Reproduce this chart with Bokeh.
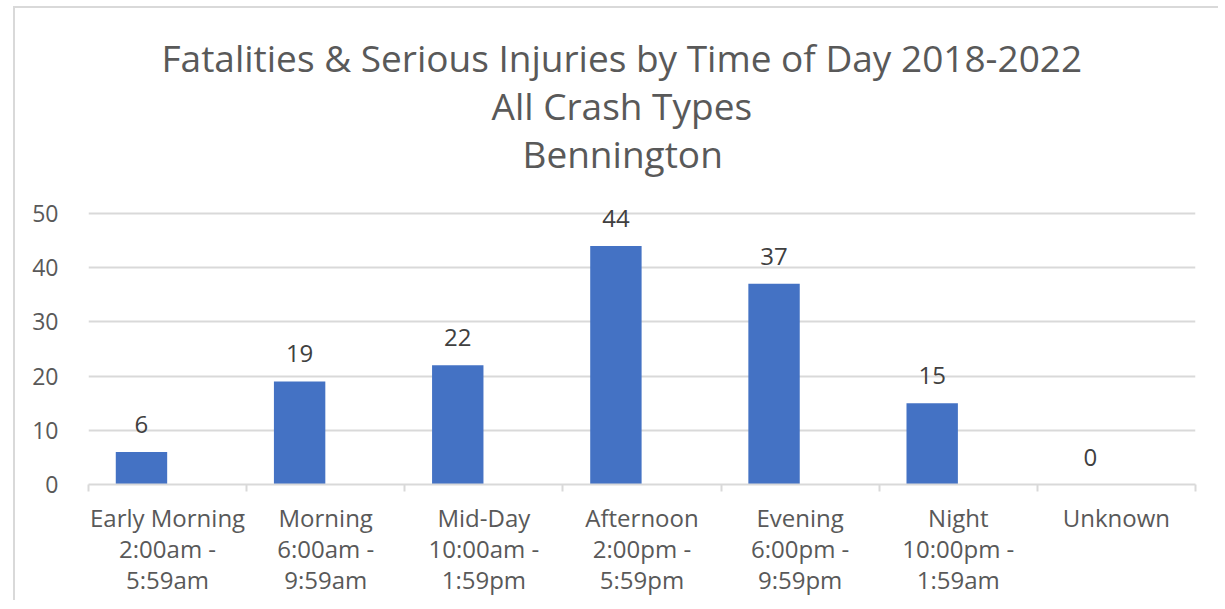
import numpy as np
from bokeh.plotting import figure
from bokeh.models import (ColumnDataSource, FixedTicker, LabelSet, Title, Range1d)
from bokeh.core.properties import value
from bokeh.transform import dodge
from bokeh.embed import file_html
from bokeh.resources import INLINE

categories = ["Early Morning\n2:00am -\n5:59am", "Morning\n6:00am -\n9:59am",
              "Mid-Day\n10:00am -\n1:59pm", "Afternoon\n2:00pm -\n5:59pm",
              "Evening\n6:00pm -\n9:59pm", "Night\n10:00pm -\n1:59am", "Unknown"]
values = [6, 19, 22, 44, 37, 15, 0]
y_ticks = [0, 10, 20, 30, 40, 50]
title_lines = ["Fatalities & Serious Injuries by Time of Day 2018-2022",
               "All Crash Types", "Bennington"]
# left offsets (px from plot-area left) that centre each title line over the whole chart
title_offsets = [73, 403, 434]

FONT = "Open Sans"
n = len(categories)
centers = list(np.arange(n) + 0.5)
src = ColumnDataSource(dict(x=centers, v=values, lbl=[str(v) for v in values]))

W, H = 1205, 594
p = figure(width=W, height=H, output_backend="svg", toolbar_location=None,
           x_range=Range1d(0, n), y_range=Range1d(0, 52),
           min_border_left=73, min_border_right=25, min_border_bottom=118,
           min_border_top=194,
           background_fill_color="white", border_fill_color="white",
           outline_line_color=None,
           styles={"margin-left": "13px", "margin-top": "6px",
                   "border-left": "2px solid #d9d9d9", "border-top": "2px solid #d9d9d9"})

# spacer nearest the plot, then title lines (last added is farthest)
p.add_layout(Title(text=" ", text_font=FONT, text_font_size="18px", standoff=0, offset=0), "above")
for t, off in zip(reversed(title_lines), reversed(title_offsets)):
    p.add_layout(Title(text=t, align="left", text_font=FONT, text_font_size="37px",
                       text_font_style="normal", text_color="#595959",
                       standoff=-5, offset=off), "above")

p.vbar(x=dodge("x", -0.165, range=p.x_range), top="v", width=0.325, source=src,
       fill_color="#4472C4", line_color=None)

labels = LabelSet(x=dodge("x", -0.165, range=p.x_range), y="v", text="lbl", source=src,
                  text_align="center", text_baseline="alphabetic", y_offset=19,
                  text_font=value(FONT), text_font_size=value("24px"),
                  text_color=value("#404040"))
p.add_layout(labels)

# y axis
p.yaxis.ticker = FixedTicker(ticks=y_ticks)
p.yaxis.axis_line_color = None
p.yaxis.major_tick_line_color = None
p.yaxis.minor_tick_line_color = None
p.yaxis.major_label_standoff = 24
p.yaxis.major_label_text_font = FONT
p.yaxis.major_label_text_font_size = "23px"
p.yaxis.major_label_text_color = "#595959"

p.ygrid.ticker = FixedTicker(ticks=y_ticks)
p.ygrid.grid_line_color = "#d9d9d9"
p.ygrid.grid_line_width = 2
p.xgrid.grid_line_color = None

# x axis: labels at centers, ticks at boundaries (minor)
p.xaxis.ticker = FixedTicker(ticks=centers, minor_ticks=list(range(n + 1)))
p.xaxis.major_label_overrides = {c: lab for c, lab in zip(centers, categories)}
p.xaxis.axis_line_color = "#d9d9d9"
p.xaxis.axis_line_width = 2
p.xaxis.major_tick_line_color = None
p.xaxis.major_tick_out = 0
p.xaxis.major_tick_in = 0
p.xaxis.minor_tick_line_color = "#d9d9d9"
p.xaxis.minor_tick_line_width = 2
p.xaxis.minor_tick_out = 7
p.xaxis.minor_tick_in = 0
p.xaxis.major_label_standoff = 9
p.xaxis.major_label_text_font = FONT
p.xaxis.major_label_text_font_size = "24px"
p.xaxis.major_label_text_line_height = 0.94
p.xaxis.major_label_text_color = "#595959"

open("out.html", "w").write(file_html(p, INLINE))
